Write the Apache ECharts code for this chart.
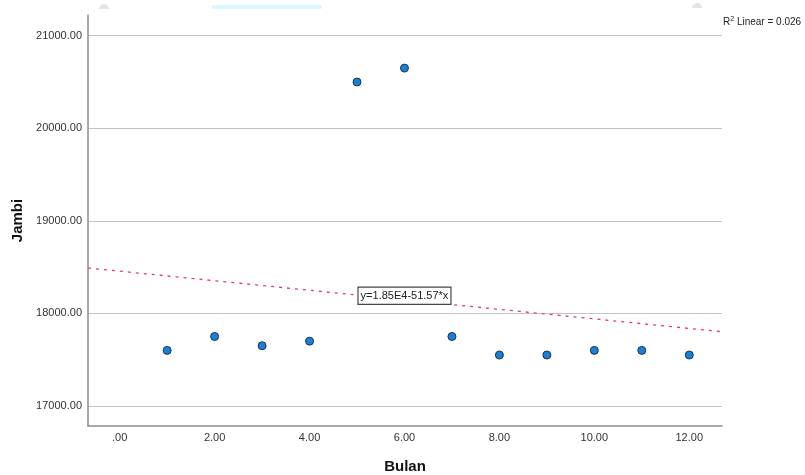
<!DOCTYPE html>
<html>
<head>
<meta charset="utf-8">
<script src="https://cdn.jsdelivr.net/npm/echarts@6/dist/echarts.min.js"></script>
<style>
  html, body { margin: 0; padding: 0; background: #ffffff; }
  #chart { width: 805px; height: 475px; }
</style>
</head>
<body>
<div id="chart"></div>
<script>
// Monthly values for Jambi
const bulan = [1, 2, 3, 4, 5, 6, 7, 8, 9, 10, 11, 12];
const jambi = [17600, 17750, 17650, 17700, 20500, 20650, 17750, 17550, 17550, 17600, 17600, 17550];

// Axis ranges
const xRange = [-0.668, 12.69];
const yRange = [16783, 21224];

// Least-squares linear fit
function linearFit(xs, ys) {
  const n = xs.length;
  const mx = xs.reduce((a, b) => a + b, 0) / n;
  const my = ys.reduce((a, b) => a + b, 0) / n;
  let sxy = 0, sxx = 0, syy = 0;
  for (let i = 0; i < n; i++) {
    sxy += (xs[i] - mx) * (ys[i] - my);
    sxx += (xs[i] - mx) * (xs[i] - mx);
    syy += (ys[i] - my) * (ys[i] - my);
  }
  const slope = sxy / sxx;
  const intercept = my - slope * mx;
  const r2 = (sxy * sxy) / (sxx * syy);
  return { slope, intercept, r2 };
}

const fit = linearFit(bulan, jambi);
const fitAt = x => fit.intercept + fit.slope * x;

function sci(v) {
  const [m, e] = v.toExponential(2).split('e');
  return m + 'E' + parseInt(e, 10);
}
const sign = fit.slope < 0 ? '-' : '+';
const equation = 'y=' + sci(fit.intercept) + sign + Math.abs(fit.slope).toFixed(2) + '*x';
const r2Text = fit.r2.toFixed(3);

const font = '"Liberation Sans", Arial, sans-serif';
const chart = echarts.init(document.getElementById('chart'));

chart.setOption({
  animation: false,
  backgroundColor: '#ffffff',
  grid: { left: 88, right: 83, top: 15, bottom: 49, containLabel: false, outerBoundsMode: 'none' },
  xAxis: {
    type: 'value',
    min: xRange[0],
    max: xRange[1],
    minInterval: 2,
    maxInterval: 2,
    name: 'Bulan',
    nameLocation: 'middle',
    nameGap: 33,
    nameTextStyle: { fontFamily: font, fontSize: 15, fontWeight: 'bold', color: '#111' },
    axisLine: { show: true, onZero: false, lineStyle: { color: '#8c8c8c', width: 1.5 } },
    axisTick: { show: false },
    splitLine: { show: false },
    axisLabel: {
      showMinLabel: false,
      showMaxLabel: false,
      margin: 6,
      fontFamily: font,
      fontSize: 11,
      color: '#333',
      formatter: v => (v === 0 ? '.00' : v.toFixed(2))
    }
  },
  yAxis: {
    type: 'value',
    min: yRange[0],
    max: yRange[1],
    minInterval: 1000,
    maxInterval: 1000,
    name: 'Jambi',
    nameLocation: 'middle',
    nameRotate: 90,
    nameGap: 55,
    nameTextStyle: { fontFamily: font, fontSize: 15, fontWeight: 'bold', color: '#111' },
    axisLine: { show: true, onZero: false, lineStyle: { color: '#8c8c8c', width: 1.5 } },
    axisTick: { show: false },
    splitLine: {
      show: true,
      showMinLine: false,
      showMaxLine: false,
      lineStyle: { color: '#c4c4c4', width: 1 }
    },
    axisLabel: {
      showMinLabel: false,
      showMaxLabel: false,
      margin: 6,
      fontFamily: font,
      fontSize: 11,
      color: '#333',
      formatter: v => v.toFixed(2)
    }
  },
  series: [
    {
      name: 'Fit',
      type: 'line',
      data: [[xRange[0], fitAt(xRange[0])], [xRange[1], fitAt(xRange[1])]],
      showSymbol: false,
      symbol: 'none',
      lineStyle: { color: '#e63a62', width: 1.3, type: [3, 5] },
      z: 2,
      markPoint: {
        symbol: 'rect',
        symbolSize: 0,
        data: [{ coord: [6, fitAt(6)] }],
        label: {
          show: true,
          position: 'inside',
          offset: [0, -4],
          formatter: equation,
          fontFamily: font,
          fontSize: 11,
          color: '#222',
          backgroundColor: '#ffffff',
          borderColor: '#444',
          borderWidth: 1.2,
          padding: [3, 2, 2, 2]
        }
      }
    },
    {
      name: 'Jambi',
      type: 'scatter',
      data: bulan.map((x, i) => [x, jambi[i]]),
      symbol: 'circle',
      symbolSize: 8,
      itemStyle: { color: '#1a7fd6', opacity: 1, borderColor: '#1b3550', borderWidth: 1 },
      z: 3
    }
  ],
  graphic: [
    {
      type: 'text',
      left: 723,
      top: 16,
      style: {
        text: '{b|R}{s|2}{b| Linear = ' + r2Text + '}',
        rich: {
          b: { fontFamily: font, fontSize: 10, fill: '#222' },
          s: { fontFamily: font, fontSize: 7, fill: '#222', verticalAlign: 'top', padding: [0, 0, 6, 0] }
        }
      }
    },
    {
      type: 'rect',
      shape: { x: 212, y: 5, width: 110, height: 4, r: 2 },
      style: { fill: '#daf6fe' }
    },
    {
      type: 'sector',
      shape: { cx: 104, cy: 9, r0: 0, r: 5, startAngle: Math.PI, endAngle: 2 * Math.PI },
      style: { fill: '#e4e4e4' }
    },
    {
      type: 'sector',
      shape: { cx: 697, cy: 8, r0: 0, r: 5, startAngle: Math.PI, endAngle: 2 * Math.PI },
      style: { fill: '#e4e4e4' }
    }
  ]
});
</script>
</body>
</html>
